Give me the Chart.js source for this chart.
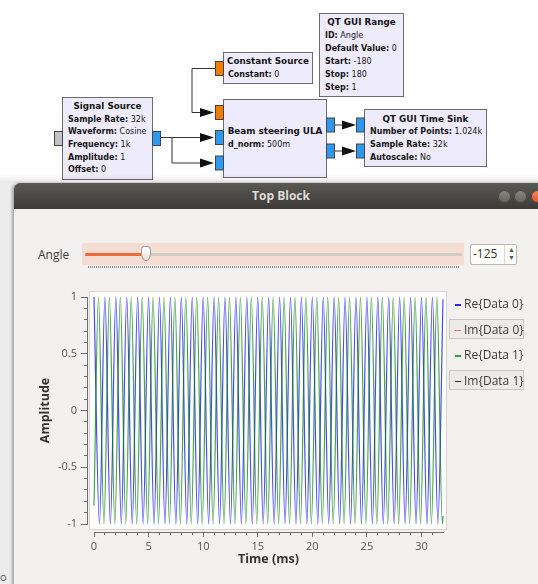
<!DOCTYPE html>
<html>
<head>
<meta charset="utf-8">
<title>Top Block</title>
<script src="https://cdn.jsdelivr.net/npm/chart.js@4.4.1/dist/chart.umd.min.js"></script>
<style>
  html, body { margin: 0; padding: 0; }
  body { width: 538px; height: 584px; overflow: hidden; position: relative; background: #fff; font-family: "Open Sans", sans-serif; }
  .abs { position: absolute; }
  #flow { position: absolute; left: 0; top: 0; }
  #flow text { fill: #161616; }
  #flow text.p { font-size: 8px; }
  #dock { left: 0; top: 174px; width: 538px; height: 9px; background: linear-gradient(rgba(0,0,0,0), rgba(0,0,0,0.09)); }
  #side { left: 0; top: 183px; width: 14px; height: 401px; background: #ececec; }
  #win { left: 14px; top: 183px; width: 540px; height: 410px; background: #f2f1f0; border-radius: 6px 6px 0 0; box-shadow: -2px 0 3px rgba(0,0,0,0.3); }
  #titlebar { left: 14px; top: 183px; width: 540px; height: 26px; border-radius: 6px 6px 0 0; background: linear-gradient(#5a5853, #3c3b37); }
  #title { left: 14px; top: 183px; width: 534px; height: 26px; line-height: 26px; text-align: center; color: #dfdbd2; font-weight: bold; font-size: 12px; }
  .btn { top: 189.5px; width: 13px; height: 13px; border-radius: 50%; background: linear-gradient(#8a8883, #64625d); box-shadow: inset 0 0 0 1px #45443f; }
  .btn.close { background: linear-gradient(#f58a5a, #e0542a); }
  #angleLbl { left: 38px; top: 245px; line-height: 19px; font-size: 12px; color: #3c3c3c; }
  #slideBg { left: 82px; top: 243px; width: 382px; height: 22px; background: #f5ddd4; }
  #groove { left: 85px; top: 252.5px; width: 377px; height: 3px; border-radius: 2px; background: #d2cbc6; }
  #grooveFill { left: 85px; top: 252.5px; width: 58px; height: 3px; border-radius: 2px; background: #ee6b3a; }
  #handle { left: 141px; top: 246px; width: 8px; height: 13px; border: 1px solid #a39e98; border-radius: 4px 4px 50% 50%; background: linear-gradient(#ffffff, #e4e2df); }
  #dots { left: 88px; top: 266px; width: 372px; height: 2px; background: repeating-linear-gradient(90deg, #8c8c8c 0 1px, transparent 1px 2px); }
  #spin { left: 470px; top: 244px; width: 45px; height: 19px; background: #fff; border: 1px solid #b9b5af; border-radius: 2px; }
  #spinTxt { left: 473px; top: 244px; line-height: 20px; font-size: 12px; color: #333; }
  #spinSep { left: 504px; top: 245px; width: 1px; height: 19px; background: #dcd9d5; }
  #spinArr { left: 508px; top: 246px; font-size: 7px; line-height: 8px; color: #555; }
  #legend { left: 449px; top: 293px; width: 75px; }
  .item { height: 20px; line-height: 20px; margin-bottom: 5.5px; font-size: 12px; color: #3c3c3c; box-sizing: border-box; padding-left: 5px; white-space: nowrap; border: 1px solid transparent; }
  .item.off { border-color: #c8c6c3; background: #ecebea; }
  .dash { display: inline-block; width: 6px; height: 1.5px; margin-right: 3px; vertical-align: middle; }
  #plot { left: 30px; top: 282px; }
  #stray { left: 0px; top: 569px; font-size: 11px; color: #555; }
</style>
</head>
<body>

<svg id="flow" width="538" height="184" viewBox="0 0 538 184" font-family="DejaVu Sans" font-size="8.8">
  <!-- wires -->
  <g stroke="#333" stroke-width="1" fill="none">
    <path d="M161 137.5 H201"/>
    <path d="M172 137.5 V163 H201"/>
    <path d="M215 68.5 H192 V112.5 H201"/>
    <path d="M335 125 H343"/>
    <path d="M335 151 H343"/>
  </g>
  <g fill="#111">
    <polygon points="200,133 214,137.5 200,142"/>
    <polygon points="200,158.5 214,163 200,167.5"/>
    <polygon points="200,108 214,112.5 200,117"/>
    <polygon points="342,120.5 356,125 342,129.5"/>
    <polygon points="342,146.5 356,151 342,155.5"/>
  </g>

  <!-- blocks -->
  <g fill="#eeebfc" stroke="#6c6c6c" stroke-width="1">
    <rect x="62.5" y="97.5" width="90" height="82"/>
    <rect x="223.5" y="52.5" width="89" height="31"/>
    <rect x="223.5" y="99.5" width="103" height="78"/>
    <rect x="319.5" y="13.5" width="84" height="83"/>
    <rect x="364.5" y="109.5" width="122" height="57"/>
  </g>

  <!-- ports -->
  <g stroke="#444" stroke-width="1">
    <rect x="54.5" y="131.5" width="8" height="14" fill="#c3c3c3"/>
    <rect x="152.5" y="131.5" width="8" height="14" fill="#2f98ee"/>
    <rect x="215.5" y="61.5" width="8" height="14" fill="#ee7d00"/>
    <rect x="215.5" y="105.5" width="8" height="14" fill="#ee7d00"/>
    <rect x="215.5" y="130.5" width="8" height="14" fill="#2f98ee"/>
    <rect x="215.5" y="156" width="8" height="14" fill="#2f98ee"/>
    <rect x="326.5" y="118" width="8" height="14" fill="#2f98ee"/>
    <rect x="326.5" y="144" width="8" height="14" fill="#2f98ee"/>
    <rect x="356.5" y="118" width="8" height="14" fill="#2f98ee"/>
    <rect x="356.5" y="144" width="8" height="14" fill="#2f98ee"/>
  </g>

  <!-- block texts -->
  <text x="107.5" y="108.5" text-anchor="middle" font-weight="bold">Signal Source</text>
  <text class="p" x="68" y="121.5"><tspan font-weight="bold">Sample Rate:</tspan> 32k</text>
  <text class="p" x="68" y="134"><tspan font-weight="bold">Waveform:</tspan> Cosine</text>
  <text class="p" x="68" y="147"><tspan font-weight="bold">Frequency:</tspan> 1k</text>
  <text class="p" x="68" y="159.5"><tspan font-weight="bold">Amplitude:</tspan> 1</text>
  <text class="p" x="68" y="172"><tspan font-weight="bold">Offset:</tspan> 0</text>

  <text x="268" y="63.5" text-anchor="middle" font-weight="bold">Constant Source</text>
  <text class="p" x="228" y="76.5"><tspan font-weight="bold">Constant:</tspan> 0</text>

  <text x="275" y="133.5" text-anchor="middle" font-weight="bold">Beam steering ULA</text>
  <text class="p" x="228" y="147"><tspan font-weight="bold">d_norm:</tspan> 500m</text>

  <text x="361.5" y="25" text-anchor="middle" font-weight="bold">QT GUI Range</text>
  <text class="p" x="325" y="37.5"><tspan font-weight="bold">ID:</tspan> Angle</text>
  <text class="p" x="325" y="50.5"><tspan font-weight="bold">Default Value:</tspan> 0</text>
  <text class="p" x="325" y="63.5"><tspan font-weight="bold">Start:</tspan> -180</text>
  <text class="p" x="325" y="76.5"><tspan font-weight="bold">Stop:</tspan> 180</text>
  <text class="p" x="325" y="89.5"><tspan font-weight="bold">Step:</tspan> 1</text>

  <text x="425.5" y="121.5" text-anchor="middle" font-weight="bold">QT GUI Time Sink</text>
  <text class="p" x="370" y="134"><tspan font-weight="bold">Number of Points:</tspan> 1.024k</text>
  <text class="p" x="370" y="147"><tspan font-weight="bold">Sample Rate:</tspan> 32k</text>
  <text class="p" x="370" y="159.5"><tspan font-weight="bold">Autoscale:</tspan> No</text>
</svg>

<div id="dock" class="abs"></div>
<div id="side" class="abs"></div>
<div id="stray" class="abs">o</div>
<div id="win" class="abs"></div>
<div id="titlebar" class="abs"></div>
<div id="title" class="abs">Top Block</div>
<div class="abs btn" style="left:497.5px"></div>
<div class="abs btn" style="left:513.5px"></div>
<div class="abs btn close" style="left:530.5px"></div>

<div id="angleLbl" class="abs">Angle</div>
<div id="slideBg" class="abs"></div>
<div id="groove" class="abs"></div>
<div id="grooveFill" class="abs"></div>
<div id="dots" class="abs"></div>
<div id="handle" class="abs"></div>
<div id="spin" class="abs"></div>
<div id="spinTxt" class="abs">-125</div>
<div id="spinSep" class="abs"></div>
<div id="spinArr" class="abs">▲<br>▼</div>

<canvas id="plot" class="abs" width="420" height="302"></canvas>
<div id="legend" class="abs"></div>

<script>
// Re{Data 0}: peaks and troughs of the blue trace (time in ms)
const re0Time = [0, 0.5, 1, 1.5, 2, 2.5, 3, 3.5, 4, 4.5, 5, 5.5, 6, 6.5, 7, 7.5,
  8, 8.5, 9, 9.5, 10, 10.5, 11, 11.5, 12, 12.5, 13, 13.5, 14, 14.5, 15, 15.5,
  16, 16.5, 17, 17.5, 18, 18.5, 19, 19.5, 20, 20.5, 21, 21.5, 22, 22.5, 23, 23.5,
  24, 24.5, 25, 25.5, 26, 26.5, 27, 27.5, 28, 28.5, 29, 29.5, 30, 30.5, 31, 31.5, 31.97];
const re0Value = [1, -1, 1, -1, 1, -1, 1, -1, 1, -1, 1, -1, 1, -1, 1, -1,
  1, -1, 1, -1, 1, -1, 1, -1, 1, -1, 1, -1, 1, -1, 1, -1,
  1, -1, 1, -1, 1, -1, 1, -1, 1, -1, 1, -1, 1, -1, 1, -1,
  1, -1, 1, -1, 1, -1, 1, -1, 1, -1, 1, -1, 1, -1, 1, -1, 0.98];

// Re{Data 1}: green trace, shifted by the steering angle
const re1Time = [0, 0.41, 0.91, 1.41, 1.91, 2.41, 2.91, 3.41, 3.91, 4.41, 4.91, 5.41, 5.91, 6.41, 6.91, 7.41, 7.91,
  8.41, 8.91, 9.41, 9.91, 10.41, 10.91, 11.41, 11.91, 12.41, 12.91, 13.41, 13.91, 14.41, 14.91, 15.41, 15.91,
  16.41, 16.91, 17.41, 17.91, 18.41, 18.91, 19.41, 19.91, 20.41, 20.91, 21.41, 21.91, 22.41, 22.91, 23.41, 23.91,
  24.41, 24.91, 25.41, 25.91, 26.41, 26.91, 27.41, 27.91, 28.41, 28.91, 29.41, 29.91, 30.41, 30.91, 31.41, 31.91, 31.97];
const re1Value = [-0.84, 1, -1, 1, -1, 1, -1, 1, -1, 1, -1, 1, -1, 1, -1, 1, -1,
  1, -1, 1, -1, 1, -1, 1, -1, 1, -1, 1, -1, 1, -1, 1, -1,
  1, -1, 1, -1, 1, -1, 1, -1, 1, -1, 1, -1, 1, -1, 1, -1,
  1, -1, 1, -1, 1, -1, 1, -1, 1, -1, 1, -1, 1, -1, 1, -1, -0.93];

// imaginary parts are switched off in the legend, nothing drawn
const im0Time = [], im0Value = [];
const im1Time = [], im1Value = [];

const seriesLabels = ['Re{Data 0}', 'Im{Data 0}', 'Re{Data 1}', 'Im{Data 1}'];

const xMajorTicks = [0, 5, 10, 15, 20, 25, 30];
const xMinorTicks = [0, 1, 2, 3, 4, 5, 6, 7, 8, 9, 10, 11, 12, 13, 14, 15, 16,
  17, 18, 19, 20, 21, 22, 23, 24, 25, 26, 27, 28, 29, 30, 31];
const yMajorTicks = [-1, -0.5, 0, 0.5, 1];
const yMinorTicks = [-1, -0.9, -0.8, -0.7, -0.6, -0.5, -0.4, -0.3, -0.2, -0.1, 0,
  0.1, 0.2, 0.3, 0.4, 0.5, 0.6, 0.7, 0.8, 0.9, 1];
const xRange = [0, 31.97];
const yRange = [-1, 1];

const axisColor = '#6e6e6e';
const labelColor = '#545454';

function toPoints(ts, vs) {
    return ts.map((t, i) => ({ x: t, y: vs[i] }));
}

function setTicks(list) {
    return scale => { scale.ticks = list.map(v => ({ value: v })); };
}

// white plotting canvas with a thin frame, a bit larger than the data area
const plotCanvas = {
    id: 'plotCanvas',
    beforeDraw(chart) {
        const { ctx, chartArea: a } = chart;
        ctx.save();
        ctx.fillStyle = '#ffffff';
        ctx.fillRect(a.left - 4, a.top - 5, a.width + 7, a.height + 10);
        ctx.strokeStyle = '#d6d4d1';
        ctx.lineWidth = 1;
        ctx.strokeRect(a.left - 4.5, a.top - 5.5, a.width + 8, a.height + 11);
        ctx.restore();
    }
};

// Qwt keeps its axes detached from the canvas; move the backbones out a little
const axisGap = {
    id: 'axisGap',
    afterLayout(chart) {
        const a = chart.chartArea;
        ['y', 'ym'].forEach(id => { chart.scales[id].right = a.left - 7; });
        ['x', 'xm'].forEach(id => { chart.scales[id].top = a.bottom + 8; });
    }
};

const ctx = document.getElementById('plot').getContext('2d');
const chart = new Chart(ctx, {
    type: 'line',
    data: {
        datasets: [
            { label: seriesLabels[0], data: toPoints(re0Time, re0Value), borderColor: 'rgba(0,0,255,0.72)', legendColor: '#2a2aff', order: 1 },
            { label: seriesLabels[1], data: toPoints(im0Time, im0Value), borderColor: 'rgba(255,0,0,0.72)', legendColor: '#ff6a6a', hidden: true, order: 2 },
            { label: seriesLabels[2], data: toPoints(re1Time, re1Value), borderColor: 'rgba(0,128,0,0.72)', legendColor: '#3d9b3d', order: 0 },
            { label: seriesLabels[3], data: toPoints(im1Time, im1Value), borderColor: 'rgba(0,0,0,0.8)', legendColor: '#2b2b2b', hidden: true, order: 3 }
        ]
    },
    options: {
        responsive: false,
        animation: false,
        events: [],
        parsing: false,
        layout: { padding: { top: 15, right: 7, bottom: 0, left: 0 } },
        elements: {
            point: { radius: 0 },
            line: { borderWidth: 1.2, cubicInterpolationMode: 'monotone' }
        },
        datasets: { line: { clip: 3 } },
        plugins: { legend: { display: false }, tooltip: { enabled: false } },
        scales: {
            x: {
                type: 'linear', position: 'bottom', min: xRange[0], max: xRange[1],
                afterBuildTicks: setTicks(xMajorTicks),
                afterFit: s => { s.height = 60; },
                grid: { drawOnChartArea: false, tickLength: 5, color: axisColor },
                border: { color: axisColor },
                ticks: { color: labelColor, padding: 3, font: { family: 'Open Sans', size: 11 }, maxRotation: 0, callback: v => String(v) },
                title: { display: true, text: 'Time (ms)', color: '#333', font: { family: 'Open Sans', size: 12.5, weight: 'bold' }, padding: { top: 0, bottom: 17.5 } }
            },
            xm: {
                type: 'linear', position: 'bottom', min: xRange[0], max: xRange[1],
                afterBuildTicks: setTicks(xMinorTicks),
                afterFit: s => { s.height = 0; },
                grid: { drawOnChartArea: false, tickLength: 3, color: axisColor },
                border: { display: false },
                ticks: { display: false }
            },
            y: {
                type: 'linear', position: 'left', min: yRange[0], max: yRange[1],
                afterBuildTicks: setTicks(yMajorTicks),
                afterFit: s => { s.width = 64; },
                grid: { drawOnChartArea: false, tickLength: 6, color: axisColor },
                border: { color: axisColor },
                ticks: { color: labelColor, padding: 4, font: { family: 'Open Sans', size: 11 }, callback: v => String(v) },
                title: { display: true, text: 'Amplitude', color: '#333', font: { family: 'Open Sans', size: 12.5, weight: 'bold' }, padding: { top: 7.5, bottom: 0 } }
            },
            ym: {
                type: 'linear', position: 'left', min: yRange[0], max: yRange[1],
                afterBuildTicks: setTicks(yMinorTicks),
                afterFit: s => { s.width = 0; },
                grid: { drawOnChartArea: false, tickLength: 3, color: axisColor },
                border: { display: false },
                ticks: { display: false }
            }
        }
    },
    plugins: [plotCanvas, axisGap]
});

// Qwt style legend: hidden curves get a sunken box
const legendBox = document.getElementById('legend');
chart.data.datasets.forEach(ds => {
    const item = document.createElement('div');
    item.className = 'item' + (ds.hidden ? ' off' : '');
    const dash = document.createElement('span');
    dash.className = 'dash';
    dash.style.background = ds.legendColor;
    item.appendChild(dash);
    item.appendChild(document.createTextNode(ds.label));
    legendBox.appendChild(item);
});
</script>
</body>
</html>
